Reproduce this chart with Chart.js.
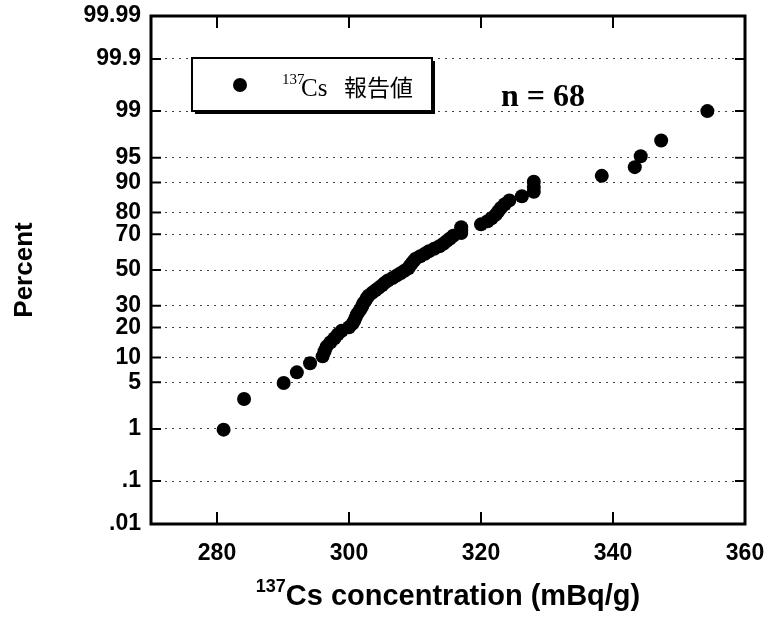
<!DOCTYPE html>
<html>
<head>
<meta charset="utf-8">
<script src="https://cdn.jsdelivr.net/npm/chart.js@4"></script>
<style>
  html, body { margin: 0; padding: 0; background: #fff; }
</style>
</head>
<body>
<canvas id="chart" width="768" height="625"></canvas>
<script>
// 137Cs 報告値 (mBq/g), sorted
const concentration = [
    281.0, 284.1, 290.1, 292.1, 294.1, 296.0,
    296.3, 296.6, 297.2, 297.8, 298.3, 298.9, 300.0, 300.5, 300.8, 301.0,
    301.2, 301.5, 301.8, 302.0, 302.2, 302.5, 302.7, 303.0, 303.5, 304.0,
    304.5, 305.0, 305.4, 305.9, 306.6, 307.2, 307.8, 308.4, 309.0, 309.2,
    309.5, 309.8, 310.1, 310.8, 311.5, 312.1, 312.9, 313.7, 314.3, 314.8,
    315.3, 315.8, 317.0, 317.0, 317.0, 320.0, 321.0, 321.6, 322.2, 322.6,
    323.0, 323.6, 324.3, 326.2, 328.0, 328.0, 328.0,
    338.3, 343.3, 344.2, 347.3, 354.3
];

// plotting position of each point (%)
const percent = [
    0.97, 2.94, 4.9, 6.7, 8.6, 10.3,
    11.7, 13.1, 14.5, 15.9, 17.3, 18.7, 20.1, 21.5, 22.9, 24.3,
    25.7, 27.1, 28.5, 29.9, 31.3, 32.7, 34.1, 35.5, 36.9, 38.3,
    39.7, 41.1, 42.5, 43.9, 45.3, 46.7, 48.1, 49.6, 51.0, 52.4,
    53.8, 55.2, 56.6, 58.0, 59.4, 60.8, 62.2, 63.6, 65.0, 66.4,
    67.8, 69.2, 70.6, 72.0, 73.4, 74.8, 76.2, 77.6, 79.0, 80.4,
    81.8, 83.2, 84.6, 86.0, 87.4, 88.8, 90.2,
    91.6, 93.4, 95.2, 97.1, 99.0
];

const xTicks = [280, 300, 320, 340, 360];
const yTicks = [0.01, 0.1, 1, 5, 10, 20, 30, 50, 70, 80, 90, 95, 99, 99.9, 99.99];
const yTickLabels = ['.01', '.1', '1', '5', '10', '20', '30', '50', '70', '80', '90', '95', '99', '99.9', '99.99'];
const sampleSize = 68;

// normal probability scale: percent -> z (Acklam inverse normal)
function probit(p) {
    const a = [-3.969683028665376e+01, 2.209460984245205e+02, -2.759285104469687e+02, 1.383577518672690e+02, -3.066479806614716e+01, 2.506628277459239e+00];
    const b = [-5.447609879822406e+01, 1.615858368580409e+02, -1.556989798598866e+02, 6.680131188771972e+01, -1.328068155288572e+01];
    const c = [-7.784894002430293e-03, -3.223964580411365e-01, -2.400758277161838e+00, -2.549732539343734e+00, 4.374664141464968e+00, 2.938163982698783e+00];
    const d = [7.784695709041462e-03, 3.224671290700398e-01, 2.445134137142996e+00, 3.754408661907416e+00];
    const pl = 0.02425;
    if (p < pl) {
        const q = Math.sqrt(-2 * Math.log(p));
        return (((((c[0] * q + c[1]) * q + c[2]) * q + c[3]) * q + c[4]) * q + c[5]) / ((((d[0] * q + d[1]) * q + d[2]) * q + d[3]) * q + 1);
    }
    if (p > 1 - pl) {
        const q = Math.sqrt(-2 * Math.log(1 - p));
        return -(((((c[0] * q + c[1]) * q + c[2]) * q + c[3]) * q + c[4]) * q + c[5]) / ((((d[0] * q + d[1]) * q + d[2]) * q + d[3]) * q + 1);
    }
    const q = p - 0.5, r = q * q;
    return (((((a[0] * r + a[1]) * r + a[2]) * r + a[3]) * r + a[4]) * r + a[5]) * q / (((((b[0] * r + b[1]) * r + b[2]) * r + b[3]) * r + b[4]) * r + 1);
}

const points = concentration.map((v, i) => ({ x: v, y: probit(percent[i] / 100) }));

const SANS = '"Liberation Sans", Arial, sans-serif';
const SERIF = '"Liberation Serif", "Times New Roman", serif';

// frame, inward ticks, legend box, annotations, axis titles
const decorPlugin = {
    id: 'decor',
    afterDraw(chart) {
        const ctx = chart.ctx;
        const area = chart.chartArea;
        const xs = chart.scales.x;
        const ys = chart.scales.y;
        ctx.save();
        ctx.strokeStyle = '#000';
        ctx.fillStyle = '#000';

        // inward tick marks on all four sides
        ctx.lineWidth = 2;
        ctx.beginPath();
        yTicks.forEach(p => {
            const y = ys.getPixelForValue(probit(p / 100));
            ctx.moveTo(area.left, y); ctx.lineTo(area.left + 10, y);
            ctx.moveTo(area.right, y); ctx.lineTo(area.right - 10, y);
        });
        xTicks.forEach(v => {
            const x = xs.getPixelForValue(v);
            ctx.moveTo(x, area.bottom); ctx.lineTo(x, area.bottom - 12);
            ctx.moveTo(x, area.top); ctx.lineTo(x, area.top + 12);
        });
        ctx.stroke();

        // frame
        ctx.lineWidth = 3;
        ctx.strokeRect(area.left, area.top, area.right - area.left, area.bottom - area.top);

        // legend box with shadow
        const lx = 192, ly = 58, lw = 240, lh = 53;
        ctx.fillRect(lx + 3, ly + 3, lw, lh);
        ctx.fillStyle = '#fff';
        ctx.fillRect(lx, ly, lw, lh);
        ctx.lineWidth = 2;
        ctx.strokeRect(lx, ly, lw, lh);
        ctx.fillStyle = '#000';
        ctx.beginPath();
        ctx.arc(240, 85, 7, 0, Math.PI * 2);
        ctx.fill();
        ctx.textBaseline = 'alphabetic';
        ctx.textAlign = 'left';
        ctx.font = '15px ' + SERIF;
        ctx.fillText('137', 282, 84);
        ctx.font = '25px ' + SERIF;
        ctx.fillText('Cs', 301, 96);
        ctx.font = '23px "Noto Sans CJK JP", sans-serif';
        ctx.fillText('報告値', 344, 96);

        // sample size
        ctx.font = 'bold 32px ' + SERIF;
        ctx.fillText('n = ' + sampleSize, 501, 106);

        // x axis title with superscript
        const supFont = 'bold 18px ' + SANS;
        const mainFont = 'bold 29px ' + SANS;
        const mainText = 'Cs concentration (mBq/g)';
        ctx.font = supFont;
        const supW = ctx.measureText('137').width;
        ctx.font = mainFont;
        const mainW = ctx.measureText(mainText).width;
        const cx = (area.left + area.right) / 2;
        const x0 = cx - (supW + mainW) / 2;
        ctx.font = supFont;
        ctx.fillText('137', x0, 592);
        ctx.font = mainFont;
        ctx.fillText(mainText, x0 + supW, 605);

        // y axis title
        ctx.translate(32, (area.top + area.bottom) / 2);
        ctx.rotate(-Math.PI / 2);
        ctx.textAlign = 'center';
        ctx.font = 'bold 26px ' + SANS;
        ctx.fillText('Percent', 0, 0);
        ctx.restore();
    }
};

new Chart(document.getElementById('chart'), {
    type: 'scatter',
    data: {
        datasets: [{
            label: '137Cs 報告値',
            data: points,
            backgroundColor: '#000',
            borderWidth: 0,
            pointRadius: 7,
            pointHoverRadius: 7
        }]
    },
    options: {
        responsive: false,
        animation: false,
        devicePixelRatio: 1,
        layout: { padding: { top: 16, right: 23, left: 0, bottom: 0 } },
        plugins: {
            legend: { display: false },
            tooltip: { enabled: false }
        },
        scales: {
            x: {
                type: 'linear',
                min: 270,
                max: 360,
                afterBuildTicks: scale => { scale.ticks = xTicks.map(v => ({ value: v })); },
                afterFit: scale => {
                    scale.height = 101;
                    scale.paddingLeft = 0;
                    scale.paddingRight = 0;
                },
                grid: { display: false, drawTicks: false },
                border: { display: false },
                ticks: {
                    autoSkip: false,
                    maxRotation: 0,
                    padding: 16,
                    color: '#000',
                    font: { family: SANS, size: 23, weight: 'bold' }
                }
            },
            y: {
                type: 'linear',
                min: probit(0.0001),
                max: probit(0.9999),
                afterBuildTicks: scale => { scale.ticks = yTicks.map(p => ({ value: probit(p / 100) })); },
                afterFit: scale => {
                    scale.width = 151;
                    scale.paddingTop = 0;
                    scale.paddingBottom = 0;
                },
                grid: { color: '#444', lineWidth: 1, drawTicks: false },
                border: { display: false, dash: [2, 5] },
                ticks: {
                    autoSkip: false,
                    padding: 10,
                    color: '#000',
                    font: { family: SANS, size: 23, weight: 'bold' },
                    callback: (value, index) => yTickLabels[index]
                }
            }
        }
    },
    plugins: [decorPlugin]
});
</script>
</body>
</html>
